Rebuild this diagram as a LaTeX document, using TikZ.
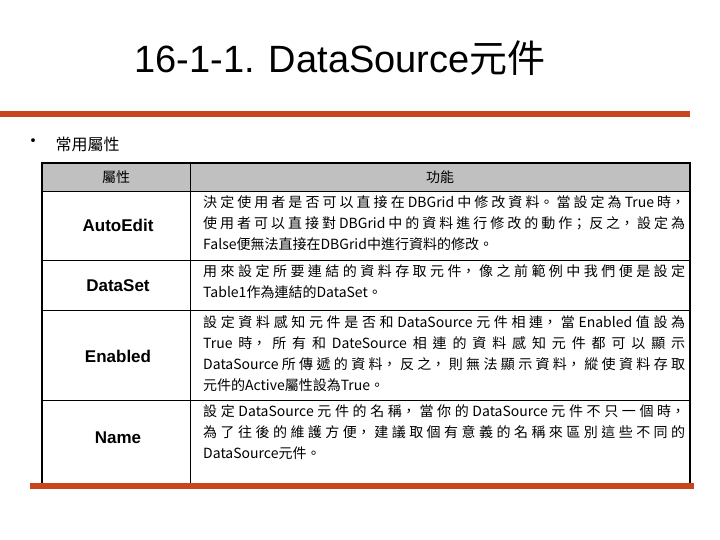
\documentclass[tikz,border=0pt]{standalone}
\usepackage{fontspec}
\setmainfont{Noto Sans CJK TC}
\newfontfamily\latin{Liberation Sans}
\XeTeXlinebreaklocale "zh"
\XeTeXlinebreakskip=0pt plus 3pt
\definecolor{bar}{HTML}{C8461E}
\definecolor{hdr}{HTML}{C0C0C0}
\begin{document}
\begin{tikzpicture}[x=1pt,y=-1pt,
  cell/.style={anchor=north west,text width=482pt,align=justify,font=\fontsize{14}{21}\selectfont,inner sep=0pt},
  prop/.style={font=\latin\fontsize{17}{20}\selectfont\bfseries}]
\useasboundingbox (0,0) rectangle (720,540);
\node (title) at (340,58) {\fontsize{38}{42}\selectfont{\latin 16-1-1. DataSource}元件};
\fill[bar] (0,111) rectangle (690,117);
\node (bul) at (33,143) {\fontsize{18}{20}\selectfont •};
\node[anchor=west] (sub) at (52,144) {\fontsize{16}{18}\selectfont 常用屬性};
\fill[hdr] (42,163) rectangle (690,192);
\draw[line width=1.2pt] (42,163) rectangle (690,485);
\foreach \yy in {192,260,310,400}{\draw[line width=1pt] (42,\yy)--(690,\yy);}
\draw[line width=1pt] (190,163)--(190,485);
\node (h1) at (116,177) {\fontsize{14}{16}\selectfont 屬性};
\node (h2) at (440,177) {\fontsize{14}{16}\selectfont 功能};
\node[prop] (p1) at (118,225) {AutoEdit};
\node[prop] (p2) at (118,286) {DataSet};
\node[prop] (p3) at (118,356) {Enabled};
\node[prop] (p4) at (118,438) {Name};
\node[cell] (c1) at (203,195) {決定使用者是否可以直接在DBGrid中修改資料。當設定為True時，\linebreak 使用者可以直接對DBGrid中的資料進行修改的動作；反之，設定為\linebreak False便無法直接在DBGrid中進行資料的修改。};
\node[cell] (c2) at (203,264) {用來設定所要連結的資料存取元件，像之前範例中我們便是設定\linebreak Table1作為連結的DataSet。};
\node[cell] (c3) at (203,315) {設定資料感知元件是否和DataSource元件相連，當Enabled值設為\linebreak True時，所有和DateSource相連的資料感知元件都可以顯示\linebreak DataSource所傳遞的資料，反之，則無法顯示資料，縱使資料存取\linebreak 元件的Active屬性設為True。};
\node[cell] (c4) at (203,404) {設定DataSource元件的名稱，當你的DataSource元件不只一個時，\linebreak 為了往後的維護方便，建議取個有意義的名稱來區別這些不同的\linebreak DataSource元件。};
\fill[bar] (30,483) rectangle (694,489);
\end{tikzpicture}
\end{document}
